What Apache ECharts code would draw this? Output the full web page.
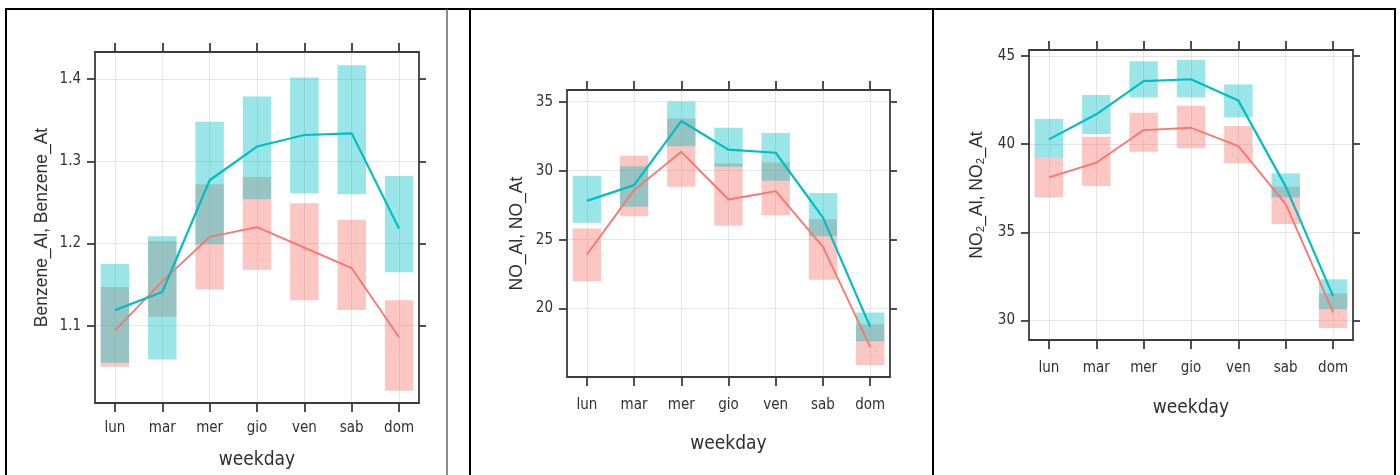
<!DOCTYPE html>
<html>
<head>
<meta charset="utf-8">
<script src="https://cdn.jsdelivr.net/npm/echarts@6/dist/echarts.min.js"></script>
<style>
  html, body { margin: 0; padding: 0; background: #fff; }
  #chart { width: 1400px; height: 475px; }
</style>
</head>
<body>
<div id="chart"></div>
<script>
// giorni della settimana
const days = ['lun', 'mar', 'mer', 'gio', 'ven', 'sab', 'dom'];

// Benzene (Al = rosso, At = turchese)
const benzAlMean = [1.094, 1.154, 1.208, 1.220, 1.195, 1.170, 1.086];
const benzAlLow  = [1.050, 1.111, 1.144, 1.168, 1.131, 1.119, 1.021];
const benzAlHigh = [1.147, 1.203, 1.272, 1.281, 1.249, 1.229, 1.131];
const benzAtMean = [1.119, 1.141, 1.277, 1.318, 1.332, 1.334, 1.218];
const benzAtLow  = [1.055, 1.059, 1.199, 1.254, 1.261, 1.260, 1.165];
const benzAtHigh = [1.175, 1.209, 1.348, 1.379, 1.402, 1.417, 1.282];
const benzTicks  = [1.1, 1.2, 1.3, 1.4];

// NO
const noAlMean = [23.92, 28.59, 31.37, 27.91, 28.52, 24.48, 17.22];
const noAlLow  = [21.98, 26.70, 28.83, 26.00, 26.77, 22.10, 15.91];
const noAlHigh = [25.81, 31.08, 33.79, 30.52, 30.60, 26.48, 18.86];
const noAtMean = [27.81, 28.95, 33.60, 31.52, 31.30, 26.60, 18.67];
const noAtLow  = [26.22, 27.38, 31.78, 30.28, 29.27, 25.25, 17.63];
const noAtHigh = [29.63, 30.33, 35.02, 33.11, 32.73, 28.39, 19.71];
const noTicks  = [20, 25, 30, 35];

// NO2
const no2AlMean = [38.12, 38.95, 40.80, 40.93, 39.89, 36.60, 30.47];
const no2AlLow  = [36.98, 37.62, 39.57, 39.76, 38.91, 35.47, 29.57];
const no2AlHigh = [39.23, 40.42, 41.78, 42.18, 41.03, 37.59, 31.53];
const no2AtMean = [40.27, 41.69, 43.58, 43.68, 42.47, 37.59, 31.38];
const no2AtLow  = [39.23, 40.57, 42.65, 42.65, 41.52, 36.98, 30.63];
const no2AtHigh = [41.43, 42.79, 44.70, 44.77, 43.39, 38.34, 32.33];
const no2Ticks  = [30, 35, 40, 45];

const RED = '#F8766D';
const TEAL = '#00BFC4';
const RED_BAND = 'rgba(248,118,109,0.42)';
const TEAL_BAND = 'rgba(0,191,196,0.40)';
const NARROW = "'Liberation Sans Narrow', 'DejaVu Sans Condensed', sans-serif";
const dayIdx = days.map((d, i) => i);

// pannelli: posizione della griglia + assi
const panels = [
  { grid: { left: 95, top: 52, width: 324, height: 352 }, yMin: 1.006, yMax: 1.433, ticks: benzTicks, dec: 1,
    name: 'Benzene_Al, Benzene_At', yGap: 44, xGap: 48, xMargin: 18,
    al: [benzAlMean, benzAlLow, benzAlHigh], at: [benzAtMean, benzAtLow, benzAtHigh] },
  { grid: { left: 567, top: 90, width: 323, height: 287 }, yMin: 15.04, yMax: 35.85, ticks: noTicks, dec: 0,
    name: 'NO_Al, NO_At', yGap: 41, xGap: 58, xMargin: 21,
    al: [noAlMean, noAlLow, noAlHigh], at: [noAtMean, noAtLow, noAtHigh] },
  { grid: { left: 1029, top: 50, width: 324, height: 290 }, yMin: 28.89, yMax: 45.34, ticks: no2Ticks, dec: 0,
    name: 'NO\u2082_Al, NO\u2082_At', yGap: 43, xGap: 59, xMargin: 21,
    al: [no2AlMean, no2AlLow, no2AlHigh], at: [no2AtMean, no2AtLow, no2AtHigh] }
];

const axisLine = { show: true, onZero: false, lineStyle: { color: '#3c3c3c', width: 1.8 } };
const tickStyle = { color: '#3c3c3c', width: 1.8 };
const gridLine = { show: true, lineStyle: { color: '#e6e6e6', width: 1 } };

function bandRender(color) {
  return function (params, api) {
    const x = api.value(0);
    const top = api.coord([x, api.value(2)]);
    const bot = api.coord([x, api.value(1)]);
    const w = api.size([0.6, 0])[0];
    return {
      type: 'rect',
      shape: { x: top[0] - w / 2, y: top[1], width: w, height: bot[1] - top[1] },
      style: { fill: color }
    };
  };
}

const grids = [], xAxes = [], yAxes = [], series = [];

panels.forEach((p, k) => {
  grids.push(Object.assign({ containLabel: false }, p.grid));
  const xBase = { type: 'value', gridIndex: k, min: -0.42, max: 6.42, axisLine: axisLine };
  xAxes.push(Object.assign({}, xBase, {
    position: 'bottom',
    axisTick: { show: true, length: 9, lineStyle: tickStyle, customValues: dayIdx },
    axisLabel: { customValues: dayIdx, formatter: v => days[v], margin: p.xMargin,
      fontFamily: NARROW, fontSize: 15, color: '#2e2e3a' },
    splitLine: gridLine,
    name: 'weekday', nameLocation: 'middle', nameGap: p.xGap,
    nameTextStyle: { fontFamily: NARROW, fontSize: 19, color: '#2e2e2e' }
  }));
  xAxes.push(Object.assign({}, xBase, {
    position: 'top',
    axisTick: { show: true, length: 9, lineStyle: tickStyle, customValues: dayIdx },
    axisLabel: { show: false }, splitLine: { show: false }
  }));
  const yBase = { type: 'value', gridIndex: k, min: p.yMin, max: p.yMax, axisLine: axisLine };
  yAxes.push(Object.assign({}, yBase, {
    position: 'left',
    axisTick: { show: true, length: 8, lineStyle: tickStyle, customValues: p.ticks },
    axisLabel: { customValues: p.ticks, formatter: v => v.toFixed(p.dec), margin: 14,
      fontFamily: NARROW, fontSize: 15, color: '#2e2e3a' },
    splitLine: gridLine,
    name: p.name, nameLocation: 'middle', nameGap: p.yGap, nameRotate: 90,
    nameTextStyle: { fontFamily: "'Liberation Sans', Arial, sans-serif", fontSize: 17.5, color: '#2e2e2e' }
  }));
  yAxes.push(Object.assign({}, yBase, {
    position: 'right',
    axisTick: { show: true, length: 7, lineStyle: tickStyle, customValues: p.ticks },
    axisLabel: { show: false }, splitLine: { show: false }
  }));

  const xi = 2 * k, yi = 2 * k;
  // rosso: banda, linea; poi turchese sopra
  series.push({
    type: 'custom', xAxisIndex: xi, yAxisIndex: yi, renderItem: bandRender(RED_BAND),
    encode: { x: 0, y: [1, 2] },
    data: dayIdx.map(i => [i, p.al[1][i], p.al[2][i]])
  });
  series.push({
    type: 'line', xAxisIndex: xi, yAxisIndex: yi, symbol: 'none',
    lineStyle: { color: RED, width: 1.8 },
    data: dayIdx.map(i => [i, p.al[0][i]])
  });
  series.push({
    type: 'custom', xAxisIndex: xi, yAxisIndex: yi, renderItem: bandRender(TEAL_BAND),
    encode: { x: 0, y: [1, 2] },
    data: dayIdx.map(i => [i, p.at[1][i], p.at[2][i]])
  });
  series.push({
    type: 'line', xAxisIndex: xi, yAxisIndex: yi, symbol: 'none',
    lineStyle: { color: TEAL, width: 2.2 },
    data: dayIdx.map(i => [i, p.at[0][i]])
  });
});

// cornice della tabella
const frame = [
  { x1: 5, y1: 9, x2: 1396, y2: 9, c: '#000', w: 2 },
  { x1: 6, y1: 9, x2: 6, y2: 475, c: '#000', w: 2 },
  { x1: 447, y1: 9, x2: 447, y2: 475, c: '#666', w: 1.5 },
  { x1: 470, y1: 9, x2: 470, y2: 475, c: '#000', w: 2 },
  { x1: 933, y1: 9, x2: 933, y2: 475, c: '#000', w: 2 },
  { x1: 1395, y1: 9, x2: 1395, y2: 475, c: '#000', w: 2 }
];

const chart = echarts.init(document.getElementById('chart'));
chart.setOption({
  animation: false,
  backgroundColor: '#fff',
  grid: grids,
  xAxis: xAxes,
  yAxis: yAxes,
  series: series,
  graphic: frame.map(f => ({
    type: 'line', silent: true,
    shape: { x1: f.x1, y1: f.y1, x2: f.x2, y2: f.y2 },
    style: { stroke: f.c, lineWidth: f.w }
  }))
});
</script>
</body>
</html>
